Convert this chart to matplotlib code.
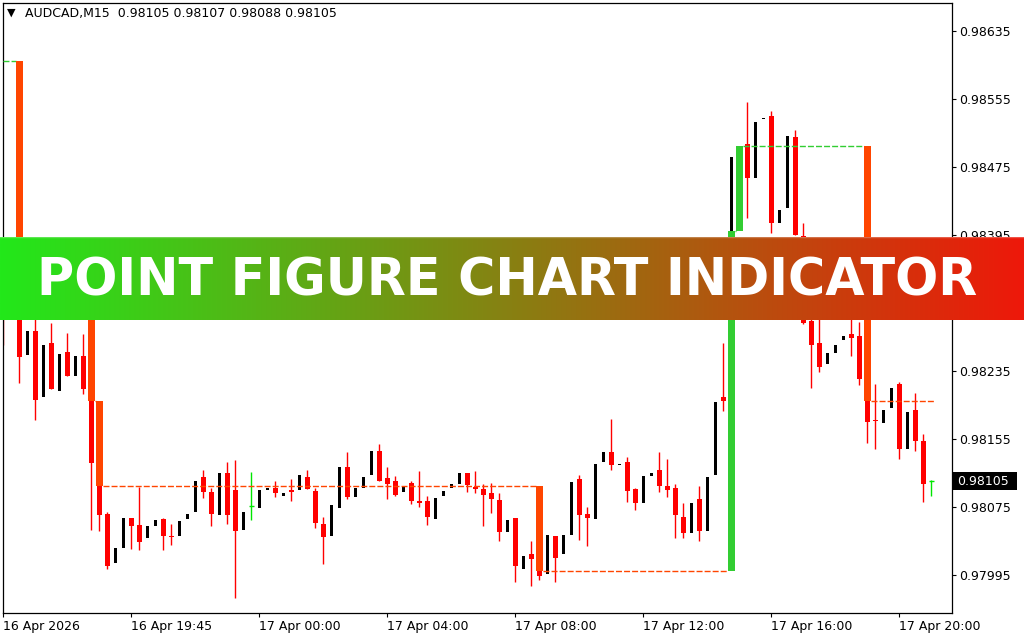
import numpy as np
import matplotlib
matplotlib.use('Agg')
import matplotlib.pyplot as plt
from matplotlib.patches import Rectangle

# ---------------- data ----------------
opens = [0.98330, 0.98307, 0.98323, 0.98254, 0.98282, 0.98204, 0.98268, 0.98211, 0.98257, 0.98229,
         0.98253, 0.98214, 0.98127, 0.98067, 0.98009, 0.98027, 0.98062, 0.98054, 0.98038, 0.98053,
         0.98061, 0.98041, 0.98041, 0.98061, 0.98069, 0.98110, 0.98093, 0.98065, 0.98115, 0.98095,
         0.98048, 0.98076, 0.98074, 0.98095, 0.98097, 0.98088, 0.98095, 0.98095, 0.98110, 0.98094,
         0.98055, 0.98041, 0.98074, 0.98122, 0.98087, 0.98097, 0.98113, 0.98141, 0.98109, 0.98106,
         0.98093, 0.98103, 0.98082, 0.98082, 0.98061, 0.98088, 0.98097, 0.98102, 0.98115, 0.98099,
         0.98096, 0.98091, 0.98083, 0.98046, 0.98062, 0.98002, 0.98020, 0.98014, 0.97996, 0.98041,
         0.98020, 0.98042, 0.98108, 0.98067, 0.98061, 0.98128, 0.98140, 0.98124, 0.98128, 0.98096,
         0.98080, 0.98111, 0.98119, 0.98100, 0.98097, 0.98063, 0.98044, 0.98084, 0.98047, 0.98113,
         0.98204, 0.98200, 0.98483, 0.98502, 0.98462, 0.98531, 0.98535, 0.98409, 0.98427, 0.98510,
         0.98394, 0.98294, 0.98268, 0.98243, 0.98256, 0.98271, 0.98279, 0.98276, 0.98226, 0.98177,
         0.98174, 0.98192, 0.98220, 0.98143, 0.98189, 0.98153, 0.98105]
highs = [0.98366, 0.98324, 0.98336, 0.98282, 0.98313, 0.98266, 0.98291, 0.98255, 0.98280, 0.98253,
         0.98279, 0.98219, 0.98130, 0.98069, 0.98027, 0.98062, 0.98062, 0.98099, 0.98053, 0.98060,
         0.98062, 0.98055, 0.98059, 0.98067, 0.98106, 0.98119, 0.98097, 0.98115, 0.98128, 0.98130,
         0.98069, 0.98116, 0.98095, 0.98097, 0.98106, 0.98091, 0.98108, 0.98113, 0.98119, 0.98097,
         0.98063, 0.98077, 0.98122, 0.98140, 0.98097, 0.98110, 0.98141, 0.98149, 0.98122, 0.98111,
         0.98099, 0.98106, 0.98117, 0.98088, 0.98086, 0.98094, 0.98102, 0.98115, 0.98115, 0.98117,
         0.98102, 0.98103, 0.98091, 0.98060, 0.98062, 0.98017, 0.98035, 0.98019, 0.98042, 0.98041,
         0.98042, 0.98104, 0.98113, 0.98075, 0.98126, 0.98140, 0.98179, 0.98126, 0.98134, 0.98097,
         0.98111, 0.98115, 0.98140, 0.98131, 0.98102, 0.98080, 0.98080, 0.98100, 0.98110, 0.98199,
         0.98268, 0.98487, 0.98495, 0.98551, 0.98528, 0.98533, 0.98541, 0.98424, 0.98511, 0.98519,
         0.98409, 0.98319, 0.98313, 0.98256, 0.98266, 0.98276, 0.98319, 0.98293, 0.98230, 0.98220,
         0.98189, 0.98215, 0.98222, 0.98187, 0.98209, 0.98161, 0.98107]
lows = [0.98265, 0.98307, 0.98221, 0.98254, 0.98177, 0.98204, 0.98214, 0.98211, 0.98229, 0.98229,
        0.98208, 0.98048, 0.98047, 0.98002, 0.98009, 0.98027, 0.98026, 0.98024, 0.98038, 0.98053,
        0.98024, 0.98030, 0.98041, 0.98061, 0.98069, 0.98086, 0.98053, 0.98065, 0.98055, 0.97968,
        0.98048, 0.98060, 0.98074, 0.98095, 0.98087, 0.98088, 0.98082, 0.98095, 0.98096, 0.98050,
        0.98008, 0.98041, 0.98074, 0.98084, 0.98087, 0.98097, 0.98113, 0.98106, 0.98084, 0.98088,
        0.98093, 0.98079, 0.98075, 0.98054, 0.98061, 0.98088, 0.98097, 0.98102, 0.98093, 0.98091,
        0.98053, 0.98068, 0.98035, 0.98046, 0.97987, 0.98002, 0.97982, 0.97989, 0.97996, 0.97987,
        0.98020, 0.98042, 0.98036, 0.98029, 0.98061, 0.98128, 0.98119, 0.98124, 0.98081, 0.98071,
        0.98080, 0.98111, 0.98093, 0.98087, 0.98039, 0.98038, 0.98044, 0.98035, 0.98047, 0.98113,
        0.98188, 0.98200, 0.98483, 0.98415, 0.98462, 0.98531, 0.98397, 0.98409, 0.98427, 0.98395,
        0.98290, 0.98215, 0.98234, 0.98243, 0.98256, 0.98271, 0.98253, 0.98219, 0.98150, 0.98143,
        0.98174, 0.98192, 0.98131, 0.98143, 0.98141, 0.98081, 0.98088]
closes = [0.98307, 0.98324, 0.98251, 0.98282, 0.98201, 0.98266, 0.98214, 0.98255, 0.98229, 0.98253,
          0.98214, 0.98127, 0.98065, 0.98006, 0.98027, 0.98062, 0.98053, 0.98034, 0.98053, 0.98060,
          0.98041, 0.98040, 0.98059, 0.98067, 0.98106, 0.98093, 0.98067, 0.98115, 0.98066, 0.98047,
          0.98069, 0.98076, 0.98095, 0.98097, 0.98091, 0.98091, 0.98093, 0.98113, 0.98096, 0.98056,
          0.98040, 0.98077, 0.98122, 0.98087, 0.98097, 0.98110, 0.98141, 0.98106, 0.98102, 0.98089,
          0.98099, 0.98082, 0.98080, 0.98063, 0.98086, 0.98094, 0.98102, 0.98115, 0.98101, 0.98096,
          0.98089, 0.98084, 0.98046, 0.98060, 0.98006, 0.98017, 0.98014, 0.97994, 0.98042, 0.98015,
          0.98042, 0.98104, 0.98066, 0.98062, 0.98126, 0.98140, 0.98124, 0.98126, 0.98094, 0.98080,
          0.98111, 0.98115, 0.98100, 0.98095, 0.98066, 0.98044, 0.98080, 0.98047, 0.98110, 0.98199,
          0.98200, 0.98487, 0.98495, 0.98462, 0.98528, 0.98533, 0.98409, 0.98424, 0.98511, 0.98395,
          0.98292, 0.98266, 0.98240, 0.98256, 0.98266, 0.98276, 0.98274, 0.98226, 0.98175, 0.98176,
          0.98189, 0.98215, 0.98143, 0.98187, 0.98153, 0.98102, 0.98105]

tick_bars = [0, 16, 32, 48, 64, 80, 96, 112]
tick_labels = ['16 Apr 2026', '16 Apr 19:45', '17 Apr 00:00', '17 Apr 04:00',
               '17 Apr 08:00', '17 Apr 12:00', '17 Apr 16:00', '17 Apr 20:00']
price_ticks = [0.97995, 0.98075, 0.98155, 0.98235, 0.98315, 0.98395, 0.98475, 0.98555, 0.98635]
hidden_price_labels = [0.98315]   # fully covered by the banner in the reference

# point & figure boxes (bar index, from level, to level)
pf_bars = [2, 11, 12, 67, 91, 92, 108]
pf_from = [0.986, 0.983, 0.982, 0.981, 0.980, 0.984, 0.985]
pf_to = [0.983, 0.982, 0.981, 0.980, 0.984, 0.985, 0.982]
pf_start_level = 0.986

symbol = 'AUDCAD,M15'
last_price = 0.98105
title = 'POINT FIGURE CHART INDICATOR'

# ---------------- figure ----------------
W, H = 1024, 640
plt.rcParams['font.family'] = ['DejaVu Sans']
plt.rcParams['lines.scale_dashes'] = False
fig = plt.figure(figsize=(W / 100, H / 100), dpi=100)
fig.patch.set_facecolor('white')

ax = fig.add_axes([3 / W, (H - 613) / H, (952 - 3) / W, (613 - 3) / H])
ax.set_facecolor('white')
ax.set_xlim(-0.04, 118.59)
ax.set_ylim(0.979503, 0.986679)

O = np.array(opens); Hh = np.array(highs); L = np.array(lows); C = np.array(closes)
idx = np.arange(len(O))
bear = C < O
bull = C > O
doji = C == O
RED = '#ff0000'
ORANGE = '#ff4500'
GREEN = '#32cd32'
LIME = '#00e600'
minh = 0.000014

# bear candles
ax.vlines(idx[bear], L[bear], Hh[bear], color=RED, lw=1.0, zorder=2)
ax.bar(idx[bear], np.maximum(O[bear] - C[bear], minh), bottom=C[bear], width=0.62,
       color=RED, edgecolor='none', zorder=2)
# bull candles (wicks are white in this template)
ax.bar(idx[bull], np.maximum(C[bull] - O[bull], minh), bottom=O[bull], width=0.38,
       color='black', edgecolor='none', zorder=2)
# doji
ax.vlines(idx[doji], L[doji], Hh[doji], color=LIME, lw=1.0, zorder=2)
ax.hlines(C[doji], idx[doji] - 0.3, idx[doji] + 0.3, color=LIME, lw=1.0, zorder=2)

# point & figure columns and level lines
prev_level = pf_start_level
prev_x = ax.get_xlim()[0]
prev_col = GREEN
hw = 0.43
for b, f, t in zip(pf_bars, pf_from, pf_to):
    col = GREEN if t > f else ORANGE
    if b - hw > prev_x:
        ax.hlines(prev_level, prev_x, b - hw, color=prev_col, lw=1.0,
                  linestyles=[(0, (4.3, 1.5))], zorder=3)
    ax.bar(b, t - f, bottom=f, width=2 * hw, color=col, edgecolor='none', zorder=3)
    prev_level, prev_x, prev_col = t, b + hw, col
ax.hlines(prev_level, prev_x, len(O) - 1 + 0.45, color=prev_col, lw=1.0,
          linestyles=[(0, (4.3, 1.5))], zorder=3)

# axes styling
for s in ax.spines.values():
    s.set_color('black')
    s.set_linewidth(0.9)
ax.yaxis.tick_right()
ax.set_yticks(price_ticks)
ax.set_yticklabels(['' if p in hidden_price_labels else '%.5f' % p for p in price_ticks])
ax.tick_params(axis='y', direction='out', length=3, width=0.8, pad=2, labelsize=9, colors='black')
ax.set_xticks(tick_bars)
ax.set_xticklabels(tick_labels)
ax.tick_params(axis='x', direction='out', length=3, width=0.8, pad=2, labelsize=9, colors='black')
for lbl in ax.get_xticklabels():
    lbl.set_horizontalalignment('left')

# header
fig.text(7 / W, 1 - 13 / H, '\u25bc', fontsize=8, va='center', ha='left', color='black')
fig.text(25 / W, 1 - 14 / H, '%s  %.5f %.5f %.5f %.5f' % (symbol, opens[-1], highs[-1], lows[-1], closes[-1]),
         fontsize=9, va='center', ha='left', color='black')

# current price label
fig.patches.append(Rectangle((953 / W, (H - 490) / H), 64 / W, 18 / H, transform=fig.transFigure,
                             facecolor='black', edgecolor='none', zorder=2))
fig.text(957 / W, (H - 481.5) / H, '%.5f' % last_price, fontsize=9, va='center', ha='left',
         color='white', zorder=3)

# banner
bax = fig.add_axes([0, (H - 320) / H, 1, 83 / H], zorder=10)
c0 = np.array([34, 232, 26]) / 255.0
c1 = np.array([238, 24, 10]) / 255.0
t = np.linspace(0, 1, 512)[None, :, None]
grad = c0[None, None, :] * (1 - t) + c1[None, None, :] * t
bax.imshow(grad, aspect='auto', extent=[0, 1, 0, 1], interpolation='bilinear')
bax.axhline(0.994, color='white', alpha=0.25, lw=1.0)
bax.set_xlim(0, 1); bax.set_ylim(0, 1)
bax.axis('off')
bax.text(507.5 / W, (320 - 295) / 83, title, transform=bax.transAxes, ha='center', va='baseline',
         fontsize=36.5, fontweight='bold', color='white', family='DejaVu Sans')

fig.savefig('out.png', dpi=100)
